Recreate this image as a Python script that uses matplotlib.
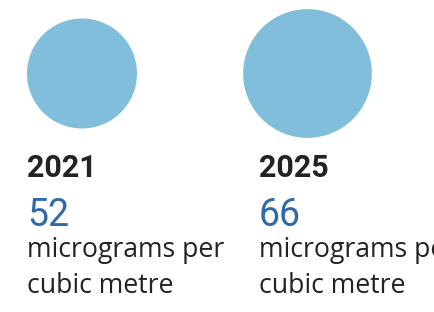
import matplotlib.pyplot as plt
from matplotlib.patches import Circle

years = ["2021", "2025"]
values = [52, 66]
unit_lines = ["micrograms per", "cubic metre"]

fig = plt.figure(figsize=(4.34, 3.12), dpi=100)
ax = fig.add_axes([0, 0, 1, 1])
ax.set_xlim(0, 434)
ax.set_ylim(312, 0)
ax.axis("off")

col_x = [27, 259]
col_cx = [82, 307.5]
base_r = 55

for i, (yr, v) in enumerate(zip(years, values)):
    r = base_r * (v / values[0]) ** 0.66
    ax.add_patch(Circle((col_cx[i], 73.5), r, color="#80bedb", lw=0))
    x = col_x[i]
    ax.text(x, 177, yr, fontsize=22, fontweight="bold", family="Roboto",
            color="#222222", va="baseline", ha="left")
    ax.text(x, 226, str(v), fontsize=27, family="Roboto",
            color="#2e6aa8", va="baseline", ha="left")
    ax.text(x, 257, unit_lines[0], fontsize=19.2, family="Open Sans",
            color="#222222", va="baseline", ha="left")
    ax.text(x, 293, unit_lines[1], fontsize=19.2, family="Open Sans",
            color="#222222", va="baseline", ha="left")

fig.savefig("out.png", dpi=100)
